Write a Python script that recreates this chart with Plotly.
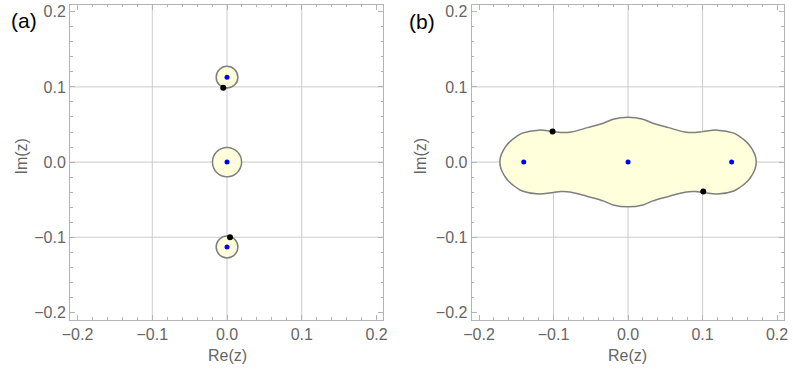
import plotly.graph_objects as go

W, H = 793, 371

# ---- data ----
# panel (a): eigenvalue circles (center_re, center_im, radius)
circles_a = [(0.0, 0.113, 0.0145), (0.0, 0.0, 0.0195), (0.0, -0.113, 0.0145)]
eig_a_re = [0.0, 0.0, 0.0]
eig_a_im = [0.113, 0.0, -0.113]
pts_a_re = [-0.005, 0.004]
pts_a_im = [0.099, -0.100]

# panel (b): upper-right quadrant of the boundary outline (symmetric in both axes)
quad_re = [0.0, 0.020, 0.0325, 0.0544, 0.0763, 0.090, 0.1004, 0.120, 0.142,
           0.1505, 0.1596, 0.165, 0.1690, 0.1712, 0.172]
quad_im = [0.0595, 0.057, 0.052, 0.0458, 0.0400, 0.0393, 0.0405, 0.0425, 0.0385,
           0.0335, 0.0262, 0.0195, 0.0125, 0.0065, 0.0]
eig_b_re = [-0.14, 0.0, 0.139]
eig_b_im = [0.0, 0.0, 0.0]
pts_b_re = [-0.1013, 0.1009]
pts_b_im = [0.0408, -0.039]

major_ticks = [-0.2, -0.1, 0.0, 0.1, 0.2]
grid_vals = [-0.1, 0.0, 0.1]
axis_range = [-0.21, 0.209]

# ---- styles ----
FILL = "#FFFFDC"
EDGE = "#7f7f7f"
BLUE = "#0000FF"
FRAME = "#b4b4b4"
GRID = "#cbcbcb"
TXT = "#666666"
FONT = "Liberation Sans"

fig = go.Figure()

# outline for panel (b)
ur = list(zip(quad_re, quad_im))
lr = [(x, -y) for x, y in reversed(ur)][1:]
ll = [(-x, -y) for x, y in ur][1:]
ul = [(-x, y) for x, y in reversed(ur)][1:-1]
outline = ur + lr + ll + ul
fig.add_trace(go.Scatter(
    x=[p[0] for p in outline] + [outline[0][0]],
    y=[p[1] for p in outline] + [outline[0][1]],
    mode="lines", line=dict(color=EDGE, width=1.5, shape="spline", smoothing=1.0),
    fill="toself", fillcolor=FILL, xaxis="x2", yaxis="y2", hoverinfo="skip"))

fig.add_trace(go.Scatter(x=eig_a_re, y=eig_a_im, mode="markers",
                         marker=dict(color=BLUE, size=5), xaxis="x", yaxis="y"))
fig.add_trace(go.Scatter(x=pts_a_re, y=pts_a_im, mode="markers",
                         marker=dict(color="black", size=6), xaxis="x", yaxis="y"))
fig.add_trace(go.Scatter(x=eig_b_re, y=eig_b_im, mode="markers",
                         marker=dict(color=BLUE, size=5), xaxis="x2", yaxis="y2"))
fig.add_trace(go.Scatter(x=pts_b_re, y=pts_b_im, mode="markers",
                         marker=dict(color="black", size=6), xaxis="x2", yaxis="y2"))

shapes = []
for cx, cy, r in circles_a:
    shapes.append(dict(type="circle", xref="x", yref="y", x0=cx - r, x1=cx + r,
                       y0=cy - r, y1=cy + r, fillcolor=FILL,
                       line=dict(color=EDGE, width=1.5), layer="below"))
for ax, (xr, yr) in {"": ("x", "y"), "2": ("x2", "y2")}.items():
    for g in grid_vals:
        shapes.append(dict(type="line", xref=xr, yref=yr + " domain", x0=g, x1=g, y0=0, y1=1,
                           line=dict(color=GRID, width=1), layer="below"))
        shapes.append(dict(type="line", xref=xr + " domain", yref=yr, x0=0, x1=1, y0=g, y1=g,
                           line=dict(color=GRID, width=1), layer="below"))

def axis(domain):
    return dict(domain=domain, range=axis_range, showgrid=False, zeroline=False,
                showline=True, linecolor=FRAME, linewidth=1, mirror="ticks",
                ticks="inside", ticklen=5, tickcolor=FRAME, tickwidth=1,
                tickvals=major_ticks, tickformat=".1f",
                tickfont=dict(family=FONT, size=16, color=TXT),
                minor=dict(dtick=0.02, tick0=0, ticks="inside", ticklen=2.5,
                           tickcolor=FRAME, showgrid=False))

ydom = [1 - 320.5 / H, 1 - 3 / H]
fig.update_layout(
    width=W, height=H, margin=dict(l=0, r=0, t=0, b=0),
    paper_bgcolor="white", plot_bgcolor="white", showlegend=False,
    xaxis=axis([63 / W, 381 / W]) | dict(anchor="y"),
    yaxis=axis(ydom) | dict(anchor="x"),
    xaxis2=axis([470.7 / W, 787.7 / W]) | dict(anchor="y2"),
    yaxis2=axis(ydom) | dict(anchor="x2"),
    shapes=shapes,
)

ann = []
def px(x, y):
    return x / W, 1 - y / H
for (x, y, t, ang, size, col) in [
        (222.7, 356.5, "Re(z)", 0, 16, TXT), (628.7, 356.5, "Re(z)", 0, 16, TXT),
        (14, 156, "Im(z)", -90, 16, TXT), (419, 156, "Im(z)", -90, 16, TXT),
        (16, 19, "(a)", 0, 21, "black"), (420, 20, "(b)", 0, 21, "black")]:
    xx, yy = px(x, y)
    ann.append(dict(x=xx, y=yy, xref="paper", yref="paper", text=t, showarrow=False,
                    textangle=ang, xanchor="center", yanchor="middle",
                    font=dict(family=FONT, size=size, color=col)))
fig.update_layout(annotations=ann)

fig.write_html("out.html")
